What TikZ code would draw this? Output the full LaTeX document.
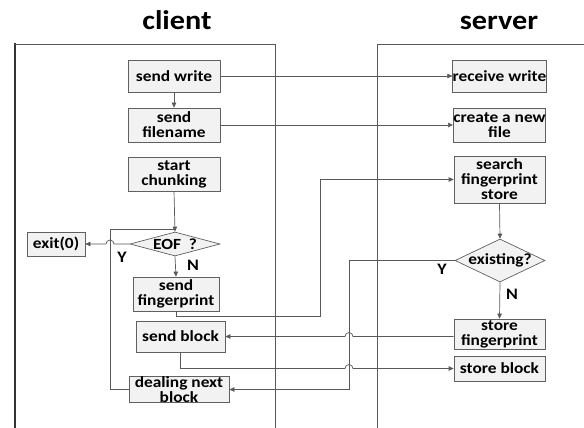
\documentclass[tikz,border=0pt]{standalone}
\usepackage{fontspec}
\setmainfont{Carlito}[FakeStretch=1.12]
\usetikzlibrary{shapes.geometric,arrows.meta}
\begin{document}
\begin{tikzpicture}[x=1pt,y=-1pt,
  box/.style={draw=gray!75!black,fill=gray!10,line width=0.7pt,inner sep=0pt,align=center,
    font=\fontsize{15.5}{15}\selectfont\bfseries},
  dia/.style={diamond,draw=gray!75!black,fill=gray!10,line width=0.7pt,inner sep=0pt},
  dtxt/.style={inner sep=0pt,font=\fontsize{15.5}{15}\selectfont\bfseries},
  conn/.style={draw=gray!70!black,line width=0.7pt},
  arr/.style={conn,-{Triangle[length=5pt,width=4.5pt]}},
  lane/.style={draw=gray!70!black,line width=0.8pt},
  lbl/.style={font=\fontsize{16}{16}\selectfont\bfseries,inner sep=0pt},
  ttl/.style={font=\fontsize{27}{27}\selectfont\bfseries,inner sep=0pt,anchor=base}]
\useasboundingbox (0,0) rectangle (584,428);
% titles
\node[ttl] (tc) at (177,30) {client};
\node[ttl] (ts) at (499,30) {server};
% lanes
\draw[lane,line width=1.6pt,draw=black!80] (15,43) -- (15,428);
\draw[lane] (15,44) -- (275,44) -- (275,428);
\draw[lane] (377,428) -- (377,44) -- (584,44);
% client nodes
\node[box,minimum width=92,minimum height=32] (sw) at (174,76) {send write};
\node[box,minimum width=92,minimum height=34] (sf) at (174,125) {send\\filename};
\node[box,minimum width=92,minimum height=34] (sc) at (174,174) {start\\chunking};
\node[dia,minimum width=90,minimum height=24] (eof) at (175,244) {};
\node[dtxt] (eoft) at (175,244) {EOF\ \ ?};
\node[box,minimum width=58,minimum height=24] (ex) at (56,244) {exit(0)};
\node[box,minimum width=86,minimum height=34] (sfp) at (176,294) {send\\fingerprint};
\node[box,minimum width=89,minimum height=31] (sb) at (180.5,336.5) {send block};
\node[box,minimum width=100,minimum height=25] (dnb) at (179,389.5) {dealing next\\block};
% server nodes
\node[box,minimum width=91,minimum height=32] (rw) at (499.5,76) {receive write};
\node[box,minimum width=91,minimum height=34] (cnf) at (499.5,125) {create a new\\file};
\node[box,minimum width=91,minimum height=47] (sfs) at (499.5,179.5) {search\\fingerprint\\store};
\node[dia,minimum width=90,minimum height=43] (exi) at (500,260.5) {};
\node[dtxt] (exit) at (500,260.5) {existing?};
\node[box,minimum width=91,minimum height=30] (sfps) at (499.5,334) {store\\fingerprint};
\node[box,minimum width=91,minimum height=25] (sbs) at (499.5,368.5) {store block};
% labels
\node[lbl] (y1) at (122,257) {Y};
\node[lbl] (n1) at (193,265) {N};
\node[lbl] (y2) at (442,269) {Y};
\node[lbl] (n2) at (512,294) {N};
% connectors
\draw[arr] (sw.east) -- (rw.west);
\draw[arr] (sw.south) -- (sf.north);
\draw[arr] (sf.east) -- (cnf.west);
\draw[arr] (sc.south) -- (eof.north);
\draw[arr] (eof.west) -- (114,244) arc[start angle=0,end angle=-180,radius=4] -- (ex.east);
\draw[arr] (eof.south) -- (sfp.north);
\draw[arr] (sfp.south) -- (176,316) -- (320,316) |- (sfs.west);
\draw[arr] (sfs.south) -- (exi.north);
\draw[arr] (exi.south) -- (sfps.north);
\draw[arr] (exi.west) -- (349,260.5) -- (349,389.5) -- (dnb.east);
\draw[arr] (sfps.west |- sb.east) -- (353,336.5) arc[start angle=0,end angle=-180,radius=4] -- (sb.east);
\draw[arr] (sb.south) -- (180.5,368.5) -- (345,368.5) arc[start angle=180,end angle=360,radius=4] -- (sbs.west);
\draw[conn] (dnb.west) -- (110,389.5) -- (110,229) -- (175,229);
\end{tikzpicture}
\end{document}
